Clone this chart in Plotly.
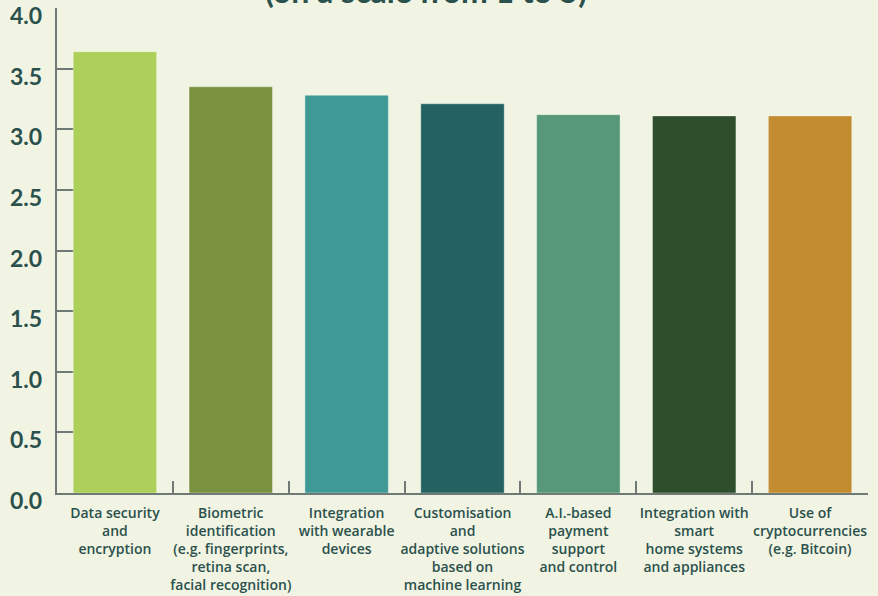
import plotly.graph_objects as go

# Feature categories (line breaks as printed under each bar)
categories = [
    "Data security<br>and<br>encryption",
    "Biometric<br>identification<br>(e.g. fingerprints,<br>retina scan,<br>facial recognition)",
    "Integration<br>with wearable<br>devices",
    "Customisation<br>and<br>adaptive solutions<br>based on<br>machine learning",
    "A.I.-based<br>payment<br>support<br>and control",
    "Integration with<br>smart<br>home systems<br>and appliances",
    "Use of<br>cryptocurrencies<br>(e.g. Bitcoin)",
]

# Mean rating on a scale from 1 to 5
ratings = [3.64, 3.35, 3.28, 3.21, 3.12, 3.11, 3.11]

bar_colors = ["#acd05a", "#7a9140", "#3f9a95", "#236260", "#569877", "#2f4f2c", "#c48c31"]

y_ticks = [0.0, 0.5, 1.0, 1.5, 2.0, 2.5, 3.0, 3.5, 4.0]

text_color = "#2b514d"
axis_color = "#6f7a76"
bg_color = "#f2f4e3"

fig = go.Figure(
    go.Bar(
        x=categories,
        y=ratings,
        marker=dict(color=bar_colors, line=dict(color="rgba(255,255,255,0.35)", width=1)),
        width=0.72,
        hoverinfo="x+y",
    )
)

# Y tick labels sit slightly below their tick marks
y_labels = [
    dict(
        text=f"<b>{v:.1f}</b>",
        xref="paper",
        yref="y",
        x=0,
        y=v,
        xanchor="right",
        yanchor="middle",
        xshift=-13,
        yshift=-7,
        showarrow=False,
        font=dict(size=23, color=text_color, family="Lato, sans-serif"),
    )
    for v in y_ticks
]

fig.update_layout(
    width=878,
    height=596,
    margin=dict(l=57, r=10, t=8, b=103),
    paper_bgcolor=bg_color,
    plot_bgcolor=bg_color,
    showlegend=False,
    font=dict(family="Lato, Open Sans, sans-serif", color=text_color),
    annotations=[
        dict(
            text="<b>(on a scale from 1 to 5)</b>",
            xref="paper",
            yref="paper",
            x=0.455,
            y=1,
            xanchor="center",
            yanchor="bottom",
            yshift=-4,
            showarrow=False,
            font=dict(size=32, color=text_color, family="Lato, sans-serif"),
        )
    ]
    + y_labels,
)

fig.update_xaxes(
    range=[-0.5, 6.5],
    automargin=False,
    showline=True,
    linecolor=axis_color,
    linewidth=1.5,
    ticks="inside",
    tickson="boundaries",
    ticklen=12,
    tickcolor=axis_color,
    tickwidth=1.5,
    tickangle=0,
    tickfont=dict(size=14, color=text_color, family="Open Sans, sans-serif", weight=600),
    ticklabelstandoff=6,
    showgrid=False,
    zeroline=False,
    layer="below traces",
)

fig.update_yaxes(
    range=[0, 4],
    automargin=False,
    tickvals=y_ticks,
    showticklabels=False,
    showline=True,
    linecolor=axis_color,
    linewidth=1.5,
    ticks="inside",
    ticklen=20,
    tickcolor=axis_color,
    tickwidth=1.5,
    showgrid=False,
    zeroline=False,
    layer="below traces",
)

fig.write_html("out.html")
